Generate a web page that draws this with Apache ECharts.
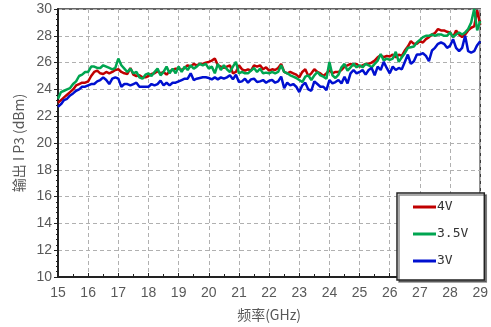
<!DOCTYPE html>
<html>
<head>
<meta charset="utf-8">
<script src="https://cdn.jsdelivr.net/npm/echarts@6/dist/echarts.min.js"></script>
<style>html,body{margin:0;padding:0;background:#fff;}#c{width:491px;height:327px;}</style>
</head>
<body>
<div id="c"></div>
<script>
const freq = [
15.0,15.1,15.2,15.3,15.4,15.5,15.6,15.7,15.8,15.9,
16.0,16.1,16.2,16.3,16.4,16.5,16.6,16.7,16.8,16.9,
17.0,17.1,17.2,17.3,17.4,17.5,17.6,17.7,17.8,17.9,
18.0,18.1,18.2,18.3,18.4,18.5,18.6,18.7,18.8,18.9,
19.0,19.1,19.2,19.3,19.4,19.5,19.6,19.7,19.8,19.9,
20.0,20.1,20.2,20.3,20.4,20.5,20.6,20.7,20.8,20.9,
21.0,21.1,21.2,21.3,21.4,21.5,21.6,21.7,21.8,21.9,
22.0,22.1,22.2,22.3,22.4,22.5,22.6,22.7,22.8,22.9,
23.0,23.1,23.2,23.3,23.4,23.5,23.6,23.7,23.8,23.9,
24.0,24.1,24.2,24.3,24.4,24.5,24.6,24.7,24.8,24.9,
25.0,25.1,25.2,25.3,25.4,25.5,25.6,25.7,25.8,25.9,
26.0,26.1,26.2,26.3,26.4,26.5,26.6,26.7,26.8,26.9,
27.0,27.1,27.2,27.3,27.4,27.5,27.6,27.7,27.8,27.9,
28.0,28.1,28.2,28.3,28.4,28.5,28.6,28.7,28.8,28.9,
29.0];

const v4 = [
23.0,23.2,23.4,23.6,23.8,24.0,24.3,24.4,24.5,24.5,
24.6,25.0,25.3,25.4,25.2,25.15,25.3,25.2,25.3,25.45,
25.5,25.3,25.2,25.15,25.6,25.1,25.0,25.05,24.9,24.9,
25.0,25.15,25.2,25.35,25.2,25.3,25.1,25.35,25.45,25.55,
25.55,25.45,25.6,25.8,25.7,25.9,25.8,25.9,25.9,26.0,
26.05,26.15,26.3,25.8,25.7,25.6,25.7,25.8,25.2,25.3,
25.8,25.5,25.4,25.5,25.4,25.8,25.7,25.8,25.5,25.65,
25.4,25.5,25.45,25.6,25.9,25.3,25.2,25.3,25.2,25.1,
24.9,25.3,25.5,25.0,25.2,25.5,25.3,25.2,25.0,25.2,
25.45,25.2,25.3,25.3,25.45,25.7,25.8,25.9,25.8,25.9,
25.7,25.8,25.9,25.9,26.0,26.15,26.4,26.55,26.4,26.5,
26.45,26.6,26.4,26.6,26.5,26.9,27.2,27.6,27.4,27.4,
27.6,27.5,27.75,27.9,28.1,28.2,28.5,28.4,28.4,28.3,
28.25,27.9,28.4,28.1,27.9,28.1,28.4,28.6,28.7,29.9,
28.8];

const v35 = [
23.3,23.8,23.9,24.0,24.1,24.4,24.6,25.0,25.1,25.3,
25.3,25.7,25.7,25.6,25.6,25.8,25.7,25.6,25.5,25.6,
26.3,25.8,25.55,25.3,25.55,25.2,25.3,24.9,24.8,25.1,
25.2,25.0,25.3,25.55,25.05,25.3,25.7,25.2,25.55,25.2,
25.7,25.3,25.7,25.45,25.8,25.55,25.7,25.9,25.8,25.9,
25.55,25.7,25.2,25.9,25.45,25.8,25.5,25.3,25.7,26.05,
25.2,25.3,25.2,25.2,25.4,25.6,25.3,25.55,25.2,25.25,
25.2,25.3,25.2,25.3,25.8,25.3,25.2,25.05,24.95,24.85,
24.7,24.55,24.95,25.05,24.7,25.05,25.3,25.05,24.95,24.8,
26.05,25.05,24.85,25.1,25.65,25.9,25.4,25.65,25.9,25.65,
25.8,25.65,25.9,25.8,25.65,25.9,26.15,26.65,26.15,26.3,
26.2,26.3,26.8,26.05,26.4,26.7,27.1,27.15,27.2,27.5,
27.7,27.9,28.0,28.0,28.1,28.0,28.1,28.1,28.0,28.0,
28.25,27.9,28.1,28.25,28.1,28.25,28.5,29.0,30.0,28.4,
29.1];

const v3 = [
22.7,22.9,23.2,23.3,23.55,23.7,23.9,24.0,24.2,24.2,
24.3,24.4,24.4,24.6,24.7,24.9,24.7,24.4,24.8,24.9,
24.8,24.2,24.4,24.4,24.3,24.4,24.5,24.2,24.2,24.2,
24.2,24.4,24.3,24.4,24.65,24.3,24.5,24.3,24.5,24.5,
24.6,24.7,24.8,24.8,25.2,24.7,24.8,24.85,24.9,24.9,
24.85,24.75,24.9,24.75,24.9,24.8,24.9,25.05,24.75,25.1,
24.55,24.6,24.8,24.5,24.75,24.8,24.55,24.6,24.7,24.5,
24.65,24.7,24.5,24.6,24.95,24.1,24.5,24.3,24.4,24.2,
23.8,24.3,24.5,24.0,23.9,24.6,24.4,24.2,24.2,23.95,
24.7,24.45,24.55,24.7,24.45,24.95,24.45,25.2,25.45,25.2,
25.3,25.45,25.1,25.45,25.6,25.05,25.7,25.45,26.05,25.6,
25.2,25.7,25.45,25.6,25.5,26.05,26.6,25.9,26.1,26.6,
26.6,26.7,26.5,26.1,26.9,27.1,27.4,27.5,27.4,27.1,
27.25,27.75,27.1,26.85,27.1,28.0,26.85,26.75,26.85,27.3,
27.6];

const seriesNames = ['4V', '3.5V', '3V'];
const seriesColors = ['#c00000', '#00a550', '#0010d0'];
const seriesValues = [v4, v35, v3];

const chart = echarts.init(document.getElementById('c'));
const labelStyle = {color: '#595959', fontSize: 14, fontFamily: 'Liberation Sans, Arial, sans-serif'};
const nameStyle = {color: '#595959', fontSize: 14, fontFamily: 'Noto Sans CJK SC, sans-serif'};

chart.setOption({
  animation: false,
  grid: {left: 58, right: 3, top: 9, bottom: 45, show: true, borderColor: '#333', borderWidth: 1.5},
  xAxis: {
    type: 'value', min: 15, max: 29, interval: 1,
    axisLine: {lineStyle: {color: '#222', width: 2}},
    axisTick: {inside: true, length: 4, lineStyle: {color: '#222'}},
    minorTick: {show: true, splitNumber: 2, length: 3, lineStyle: {color: '#222'}},
    splitLine: {show: true, lineStyle: {type: [4, 3], color: '#b0b0b0'}},
    axisLabel: Object.assign({margin: 9}, labelStyle),
    name: '频率(GHz)', nameLocation: 'middle', nameGap: 31, nameTextStyle: nameStyle
  },
  yAxis: {
    type: 'value', min: 10, max: 30, interval: 2,
    axisLine: {lineStyle: {color: '#222', width: 2}},
    axisTick: {inside: false, length: 4, lineStyle: {color: '#222'}},
    minorTick: {show: true, splitNumber: 5, length: 2, lineStyle: {color: '#222'}},
    splitLine: {show: true, lineStyle: {type: [4, 3], color: '#b0b0b0'}},
    axisLabel: Object.assign({margin: 6}, labelStyle),
    name: '输出 I P3 (dBm)', nameLocation: 'middle', nameGap: 32, nameRotate: 90, nameTextStyle: nameStyle
  },
  legend: {
    orient: 'vertical', left: 397, top: 193,
    data: seriesNames,
    icon: 'rect', itemWidth: 23, itemHeight: 3, itemGap: 13,
    padding: [7, 16, 12, 16],
    borderColor: '#222', borderWidth: 1.5, backgroundColor: '#fff',
    shadowColor: 'rgba(0,0,0,0.45)', shadowOffsetX: 2, shadowOffsetY: 2, shadowBlur: 0,
    textStyle: {color: '#333', fontSize: 13, lineHeight: 14, fontFamily: 'DejaVu Sans Mono, monospace', padding: [0, 0, 0, -4]}
  },
  series: seriesNames.map((n, k) => ({
    name: n, type: 'line', showSymbol: false, symbol: 'none',
    color: seriesColors[k],
    lineStyle: {width: 2.5, color: seriesColors[k]},
    data: freq.map((f, i) => [f, seriesValues[k][i]])
  }))
});
</script>
</body>
</html>
